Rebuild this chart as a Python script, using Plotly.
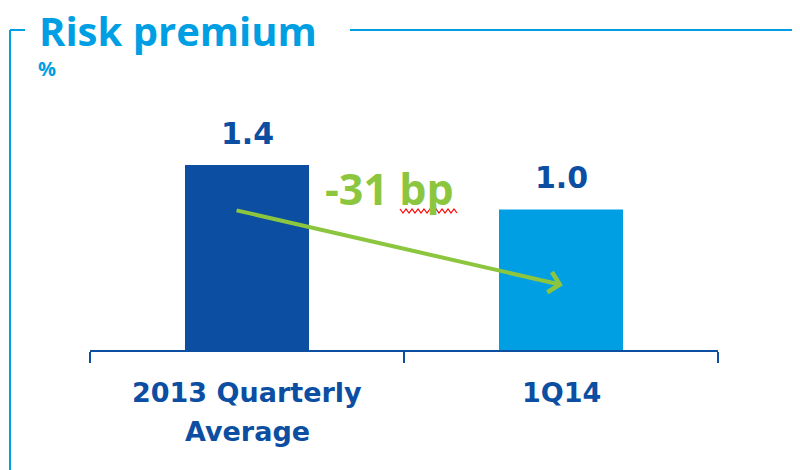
import plotly.graph_objects as go

# data
categories = ["2013 Quarterly<br>Average", "1Q14"]
values = [1.37, 1.04]
value_labels = ["1.4", "1.0"]
change_label = "-31 bp"
title_text = "Risk premium"
unit_text = "%"

DARK = "#0B4EA2"
LIGHT = "#009FE3"
GREEN = "#8CC63F"

# the page body adds an 8px margin, so lay out in shifted pixels
OFF = 8
W, H = 800, 470
L, R, T, B = 90 - OFF, 82 + OFF, 60 - OFF, 120 + OFF


# screen pixel -> paper helpers (paper is the plot area)
def px(x):
    return (x - OFF - L) / (W - L - R)


def py(y):
    return (H - B - (y - OFF)) / (H - T - B)


fig = go.Figure()
fig.add_trace(go.Bar(x=categories, y=values,
                     marker=dict(color=[DARK, LIGHT], line=dict(width=0)),
                     width=0.395, hoverinfo="skip"))

# value labels above the bars
for cat, val, lab in zip(categories, values, value_labels):
    fig.add_annotation(x=cat, y=val, text="<b>" + lab + "</b>",
                       showarrow=False, yanchor="middle", yshift=32,
                       font=dict(family="DejaVu Sans", size=30, color=DARK))

# category labels, one line at a time so line spacing can match
for cat in categories:
    for i, line in enumerate(cat.split("<br>")):
        fig.add_annotation(x=cat, y=py(392 + 40 * i), xref="x", yref="paper",
                           text="<b>" + line + "</b>", showarrow=False,
                           yanchor="middle",
                           font=dict(family="DejaVu Sans", size=27, color=DARK))

# arrow from first bar to second
fig.add_annotation(x=1.006, y=0.48, ax=-0.038, ay=1.037,
                   xref="x", yref="y", axref="x", ayref="y",
                   text="", showarrow=True, arrowhead=4, arrowsize=1.0,
                   arrowwidth=4, arrowcolor=GREEN)
fig.add_annotation(x=0.454, y=1.197, xref="x", yref="y",
                   text="<b>" + change_label + "</b>", showarrow=False,
                   yanchor="middle",
                   font=dict(family="Open Sans", size=43, color=GREEN))

# red spell-check squiggle under "bp"
zz = "M %.4f %.4f" % (px(400), py(209))
xx, up = 400, False
while xx < 456:
    xx += 3
    zz += " L %.4f %.4f" % (px(xx), py(209 if up else 213))
    up = not up
fig.add_shape(type="path", path=zz, xref="paper", yref="paper",
              line=dict(color="#FF0000", width=1.2))

# title and unit
fig.add_annotation(x=px(37), y=py(30), xref="paper", yref="paper",
                   text="<b>" + title_text + "</b>", showarrow=False,
                   xanchor="left", yanchor="middle",
                   font=dict(family="Open Sans", size=40, color=LIGHT))
fig.add_annotation(x=px(36), y=py(69), xref="paper", yref="paper",
                   text="<b>" + unit_text + "</b>", showarrow=False,
                   xanchor="left", yanchor="middle",
                   font=dict(family="Open Sans", size=20, color=LIGHT))

fig.update_layout(
    width=W, height=H,
    margin=dict(l=L, r=R, t=T, b=B, autoexpand=False),
    plot_bgcolor="white", paper_bgcolor="white",
    showlegend=False,
    xaxis=dict(range=[-0.5, 1.5], showline=True, linecolor=DARK, linewidth=2,
               ticks="outside", tickson="boundaries", ticklen=11,
               tickwidth=2, tickcolor=DARK, showgrid=False,
               showticklabels=False),
    yaxis=dict(range=[0, 2.148], visible=False, showgrid=False, zeroline=False),
)

# frame line around the panel
frame = dict(color=LIGHT, width=2)
fig.add_shape(type="line", xref="paper", yref="paper",
              x0=px(10), x1=px(10), y0=py(30), y1=py(H), line=frame)
fig.add_shape(type="line", xref="paper", yref="paper",
              x0=px(10), x1=px(25), y0=py(30), y1=py(30), line=frame)
fig.add_shape(type="line", xref="paper", yref="paper",
              x0=px(350), x1=px(W), y0=py(30), y1=py(30), line=frame)

fig.write_html("out.html")
